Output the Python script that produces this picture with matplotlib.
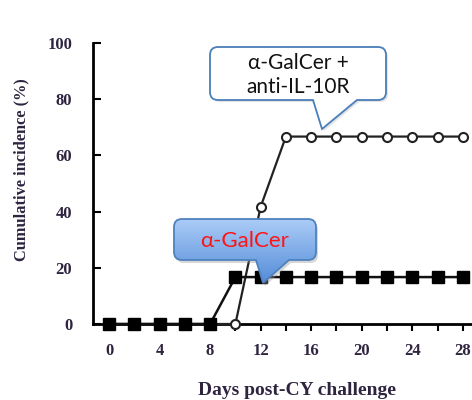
import matplotlib
matplotlib.use("Agg")
import matplotlib.pyplot as plt
import numpy as np
from matplotlib.path import Path
from matplotlib.patches import PathPatch

# dados
dias = [0, 2, 4, 6, 8, 10, 12, 14, 16, 18, 20, 22, 24, 26, 28]
galcer = [0, 0, 0, 0, 0, 16.7, 16.7, 16.7, 16.7, 16.7, 16.7, 16.7, 16.7, 16.7, 16.7]
galcer_il10r = [0, 0, 0, 0, 0, 0, 41.7, 66.7, 66.7, 66.7, 66.7, 66.7, 66.7, 66.7, 66.7]
yticks = [0, 20, 40, 60, 80, 100]
xticks = [0, 4, 8, 12, 16, 20, 24, 28]

cor_texto = '#2e2440'
fonte_serif = 'Liberation Serif'

fig = plt.figure(figsize=(4.72, 4.0), dpi=100)
ax = fig.add_axes([0.197, 0.19, 0.803, 0.7025])

ax.plot(dias, galcer_il10r, color='#222222', lw=1.6, marker='o', ms=6.5,
        mfc='white', mec='#222222', mew=1.5, zorder=3, clip_on=False)
ax.plot(dias, galcer, color='#111111', lw=1.8, marker='s', ms=8,
        mfc='black', mec='black', zorder=4, clip_on=False)

ax.set_xlim(-1.27, 28.73)
ax.set_ylim(0, 100)
ax.set_yticks(yticks)
ax.set_xticks(xticks)
ax.set_xticks(np.arange(2, 29, 4), minor=True)

for s in ['top', 'right']:
    ax.spines[s].set_visible(False)
for s in ['left', 'bottom']:
    ax.spines[s].set_linewidth(2)

ax.tick_params(axis='y', direction='in', length=6, width=1.5, pad=15,
               labelsize=12, labelcolor=cor_texto)
ax.tick_params(axis='x', which='both', direction='out', length=5, width=1.5,
               pad=9, labelsize=12, labelcolor=cor_texto)
for lbl in ax.get_xticklabels() + ax.get_yticklabels():
    lbl.set_fontfamily(fonte_serif)
    lbl.set_fontweight('bold')

ax.set_xlabel('Days post-CY challenge', fontsize=14, fontweight='bold',
              family=fonte_serif, color=cor_texto, va='center')
ax.set_ylabel('Cumulative incidence (%)', fontsize=11.8, fontweight='bold',
              family=fonte_serif, color=cor_texto, va='center')
ax.xaxis.set_label_coords(0.538, -0.235)
ax.yaxis.set_label_coords(-0.19, 0.55)

# camada em pixels para os baloes
ov = fig.add_axes([0, 0, 1, 1])
ov.set_xlim(0, 472)
ov.set_ylim(400, 0)
ov.axis('off')


def balao(x0, y0, x1, y1, r, base_dir, ponta, base_esq):
    verts = [(x0 + r, y0), (x1 - r, y0), (x1, y0), (x1, y0 + r),
             (x1, y1 - r), (x1, y1), (x1 - r, y1),
             (base_dir, y1), ponta, (base_esq, y1),
             (x0 + r, y1), (x0, y1), (x0, y1 - r),
             (x0, y0 + r), (x0, y0), (x0 + r, y0), (x0 + r, y0)]
    codes = [Path.MOVETO, Path.LINETO, Path.CURVE3, Path.CURVE3,
             Path.LINETO, Path.CURVE3, Path.CURVE3,
             Path.LINETO, Path.LINETO, Path.LINETO,
             Path.LINETO, Path.CURVE3, Path.CURVE3,
             Path.LINETO, Path.CURVE3, Path.CURVE3, Path.CLOSEPOLY]
    return Path(verts, codes)


fam = ['Lato', 'Open Sans', 'DejaVu Sans']

# balao branco
p1 = balao(210, 47, 386, 100, 8, 357, (322, 129), 313)
sombra1 = PathPatch(p1.transformed(matplotlib.transforms.Affine2D().translate(2, 2)),
                    fc='#bbbbbb', ec='none', alpha=0.4, zorder=5)
ov.add_patch(sombra1)
ov.add_patch(PathPatch(p1, fc='white', ec='#4a7ebb', lw=1.3, zorder=6))
ov.text(298, 75, 'α-GalCer +\nanti-IL-10R', ha='center', va='center',
        fontsize=15, family=fam, color='#111111', linespacing=1.2, zorder=7)

# balao azul com gradiente
p2 = balao(174, 219, 316, 260, 8, 289, (263, 283), 256)
sombra2 = PathPatch(p2.transformed(matplotlib.transforms.Affine2D().translate(2, 3)),
                    fc='#999999', ec='none', alpha=0.4, zorder=5)
ov.add_patch(sombra2)
patch2 = PathPatch(p2, fc='none', ec='#4f81bd', lw=1.3, zorder=7)
ov.add_patch(patch2)
topo = np.array([0.67, 0.80, 0.97])
fundo = np.array([0.33, 0.55, 0.85])
t = np.linspace(0, 1, 100)[:, None]
grad = (topo * (1 - t) + fundo * t)[:, None, :]
img = ov.imshow(grad, extent=[174, 316, 283, 219], aspect='auto', zorder=6)
img.set_clip_path(patch2)
ov.set_xlim(0, 472)
ov.set_ylim(400, 0)
ov.text(245, 241, 'α-GalCer', ha='center', va='center', fontsize=16,
        family=fam, color='#ff1414', zorder=8)

fig.savefig('out.png', dpi=100)
